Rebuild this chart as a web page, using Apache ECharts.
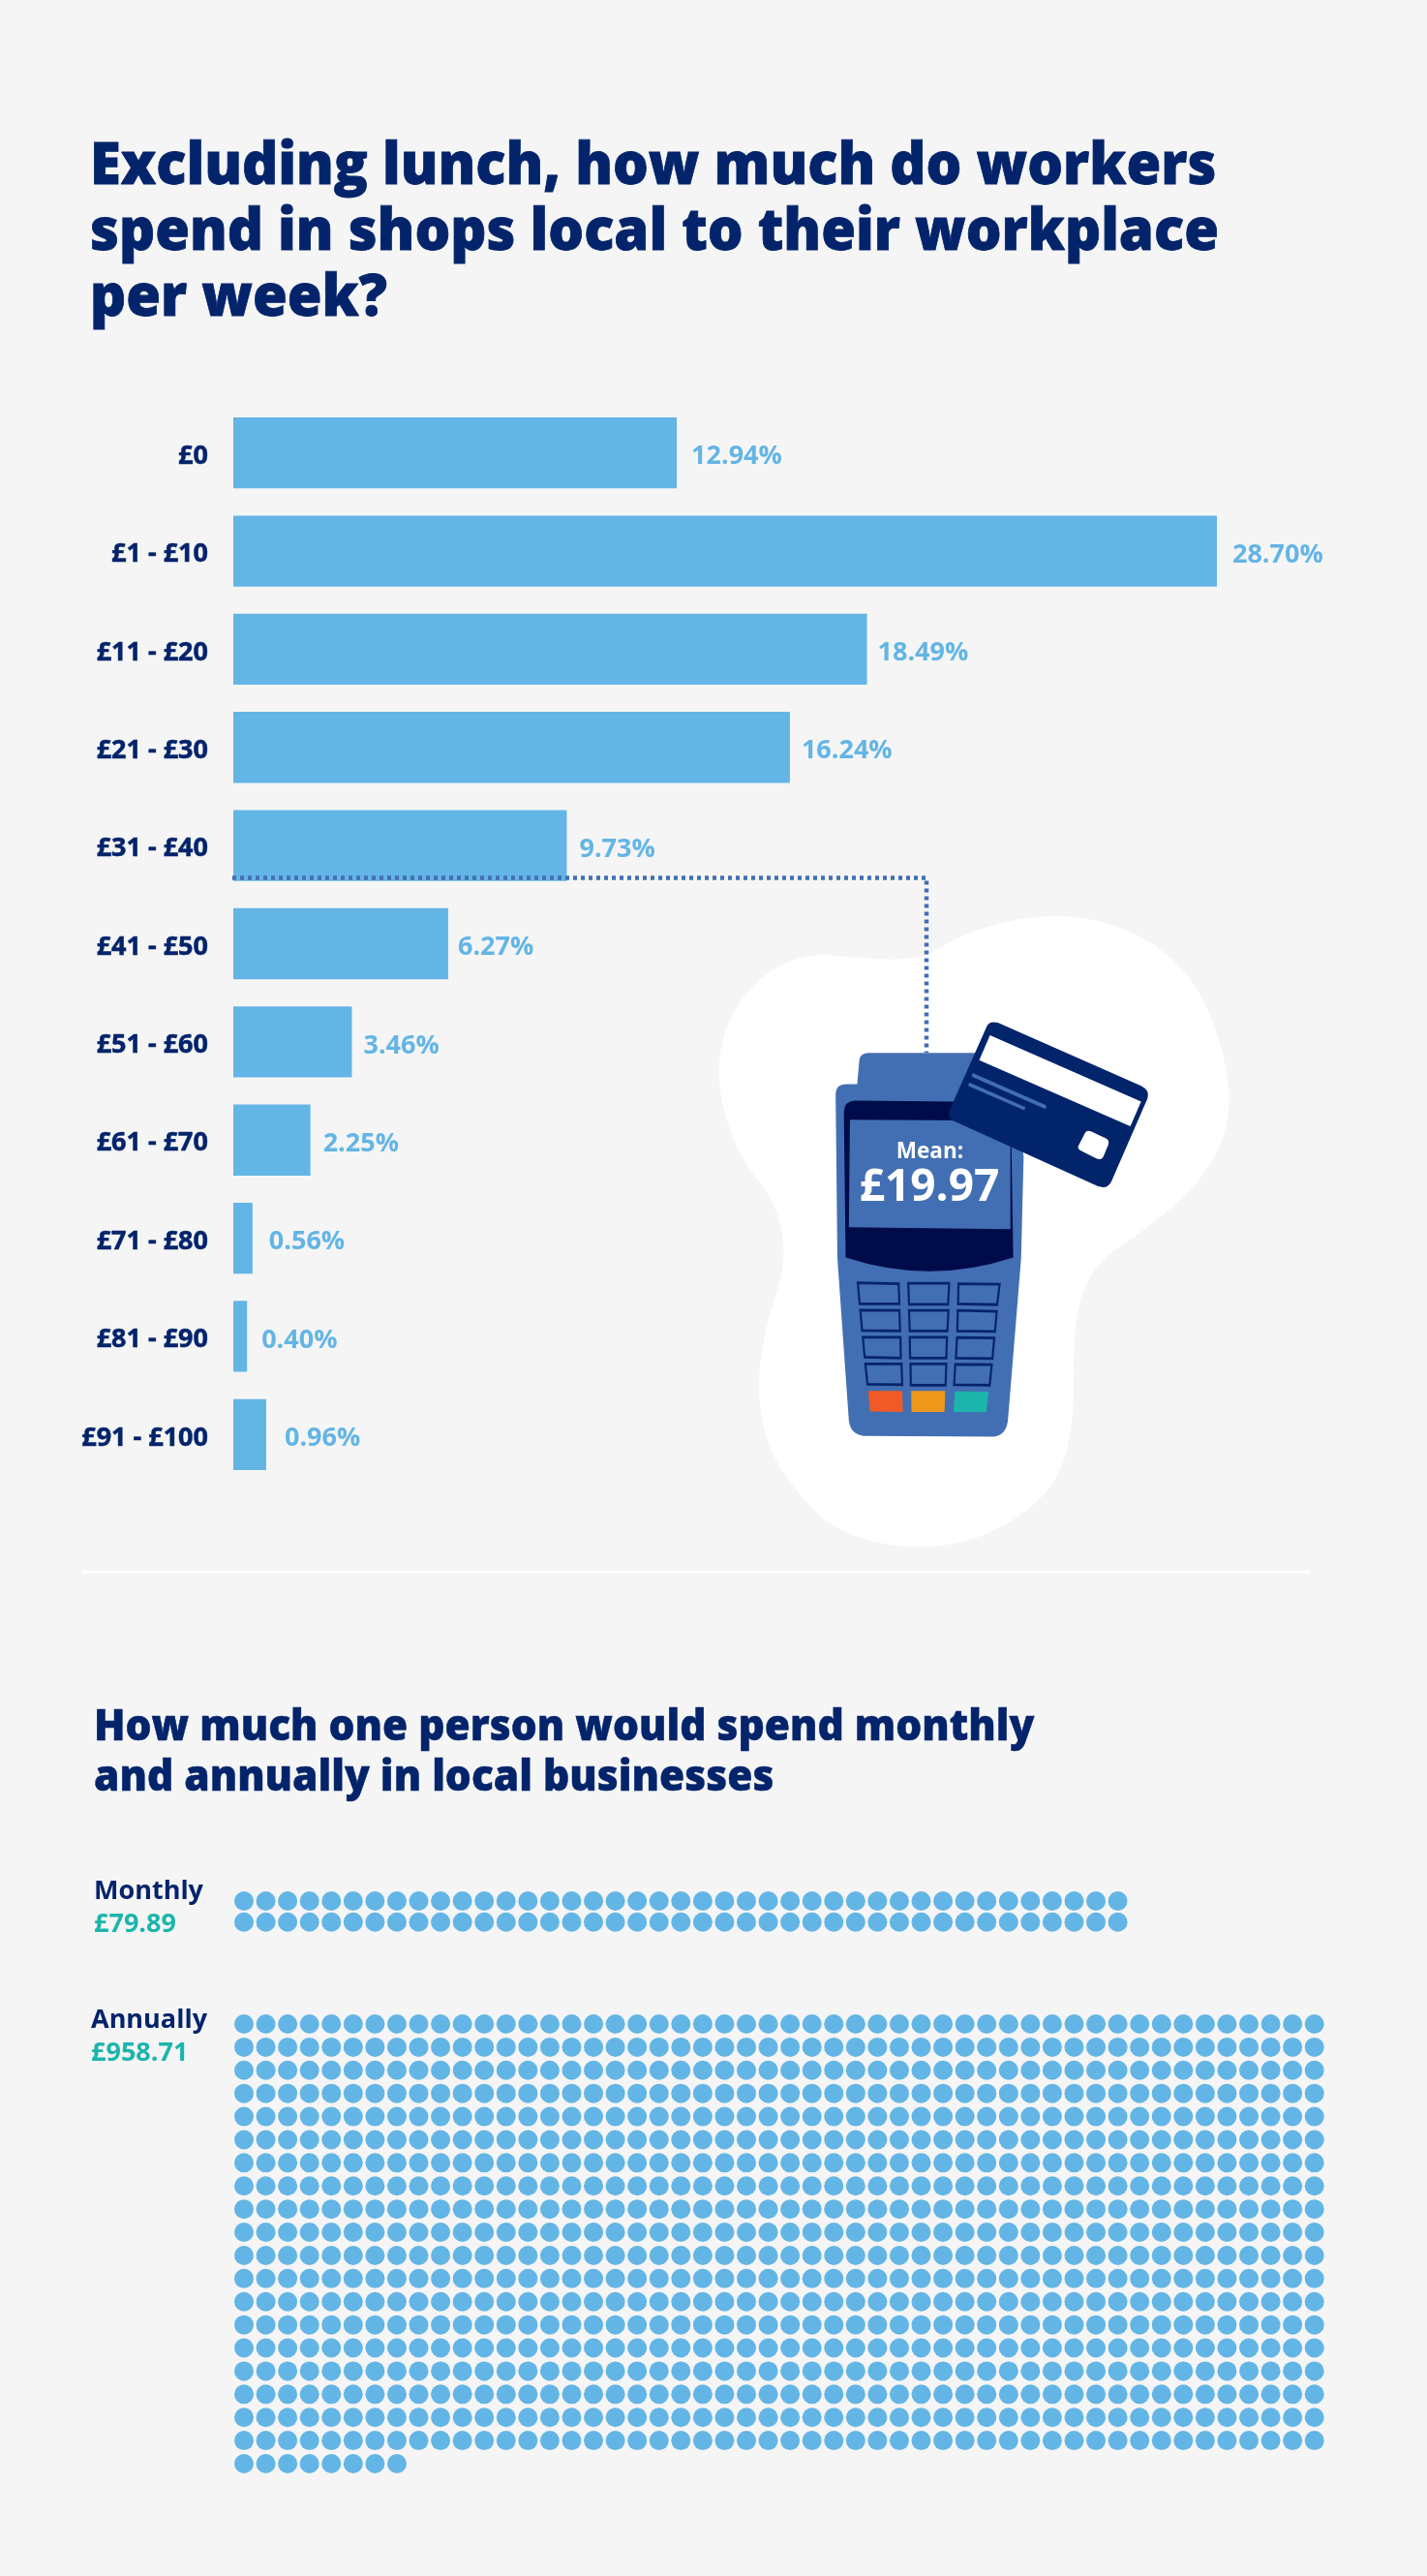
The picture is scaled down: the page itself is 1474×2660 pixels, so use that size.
<!DOCTYPE html>
<html>
	<head>
		<meta charset="utf-8">
		<title>Local spend</title>
		<script src="https://cdn.jsdelivr.net/npm/echarts@6/dist/echarts.min.js"></script>
		<style>
			* {
				margin: 0;
				padding: 0;
			}
			#main {
				width: 1474px;
				height: 2660px;
			}
		</style>
	</head>
	<body>
		<div id="main"></div>
		<script>
			let categories = ['£0', '£1 - £10', '£11 - £20', '£21 - £30', '£31 - £40', '£41 - £50', '£51 - £60', '£61 - £70', '£71 - £80', '£81 - £90', '£91 - £100'];
			let shares = [12.94, 28.70, 18.49, 16.24, 9.73, 6.27, 3.46, 2.25, 0.56, 0.40, 0.96];
			// one dot per pound, counted off the picture
			let monthlyDots = 82;
			let monthlyCols = 41;
			let annualDots = 958;
			let annualCols = 50;

			let navy = '#03246b';
			let blue = '#63b5e5';
			let teal = '#1cb5ac';
			let font = 'Open Sans';
			// gap between bar end and its label, the original is hand placed
			let labelGaps = [15, 16, 11, 12, 13, 10, 12, 13, 17, 15, 19];

			function dots(count, cols) {
				let list = [];
				for (let i = 0; i < count; i++) {
					list.push([i % cols, Math.floor(i / cols)]);
				}
				return list;
			}

			// the card reader, traced in a 1568 x 1568 drawing space
			let keys = [
				[[449,925],[563,927],[565,972],[454,972]], [[590,926],[704,926],[701,973],[592,973]], [[730,927],[845,928],[838,974],[729,972]],
				[[456,986],[565,987],[567,1033],[461,1032]], [[592,987],[702,987],[699,1033],[594,1033]], [[728,987],[837,989],[832,1034],[727,1033]],
				[[463,1047],[568,1047],[569,1094],[468,1092]], [[594,1047],[698,1047],[696,1094],[595,1094]], [[726,1048],[830,1049],[825,1095],[723,1094]],
				[[470,1107],[571,1107],[573,1154],[476,1153]], [[596,1107],[696,1107],[694,1155],[597,1155]], [[721,1108],[823,1109],[817,1155],[718,1154]]
			];

			function shape(d, fill) {
				return {type: 'path', shape: {pathData: d}, style: {fill: fill}};
			}

			function poly(points, style) {
				return {type: 'polygon', shape: {points: points}, style: style};
			}

			function drawReader() {
				let children = [
					shape('M62 450C62 300 200 190 350 188C450 190 570 210 650 185C760 125 900 100 1010 100C1200 105 1350 180 1420 300C1470 390 1490 470 1485 530C1475 680 1300 780 1160 855C1060 915 1052 1020 1052 1130C1052 1260 1040 1360 930 1430C830 1495 720 1518 620 1518C500 1518 390 1490 320 1430C220 1345 175 1270 173 1160C173 1070 205 990 230 925C255 860 245 770 175 700C110 635 62 540 62 450Z', '#ffffff'),
					shape('M447 480L453 425Q455 408 480 408L790 408L790 480Z', '#426fb3'),
					shape('M387 500Q388 478 415 478L880 478L912 640L905 870L868 1235Q862 1270 825 1271L465 1269Q428 1265 424 1235L392 870Z', '#426fb3'),
					shape('M410 540Q412 516 440 515L720 517L878 620L883 868Q650 930 415 868Z', '#000b4a'),
					poly([[427,558],[875,560],[875,804],[424,800]], {fill: '#426fb3'})
				];
				keys.forEach((k) => {
					children.push(poly(k, {fill: 'none', stroke: '#06246c', lineWidth: 6}));
				});
				children.push(
					poly([[478,1168],[573,1168],[575,1215],[483,1214]], {fill: '#f15a26'}),
					poly([[598,1168],[693,1168],[691,1215],[599,1215]], {fill: '#f0981c'}),
					poly([[720,1169],[814,1170],[808,1216],[716,1215]], {fill: teal}),
					shape('M808 350Q815 335 840 340L1240 482Q1265 492 1258 510L1158 695Q1148 715 1120 708L715 560Q698 550 706 535Z', '#02246b'),
					poly([[818,368],[1240,517],[1210,573],[788,424]], {fill: '#ffffff'}),
					poly([[770,453],[976,526],[973,534],[767,461]], {fill: '#426fb3'}),
					poly([[760,474],[917,530],[914,537],[757,482]], {fill: '#426fb3'}),
					shape('M1082 590Q1087 580 1100 584L1142 600Q1153 605 1148 615L1135 640Q1130 650 1115 645L1072 628Q1060 622 1066 615Z', '#ffffff')
				);
				return {type: 'group', x: 720, y: 900, scaleX: 580 / 1568, scaleY: 720 / 1568, children: children};
			}

			function label(text, x, y, size, color, weight, align) {
				return {
					type: 'text',
					x: x,
					y: y,
					z: 100,
					style: {
						text: text,
						fill: color,
						fontFamily: font,
						fontSize: size,
						fontWeight: weight,
						align: align || 'left',
						verticalAlign: 'middle'
					}
				};
			}

			// headings are set tighter and heavier than the font, so squeeze and thicken them a little
			function heading(text, x, y, size, lineHeight, thicken) {
				return {
					type: 'text',
					x: x,
					y: y,
					z: 100,
					scaleX: 0.965,
					style: {
						text: text,
						fill: navy,
						stroke: navy,
						lineWidth: thicken,
						fontFamily: font,
						fontSize: size,
						fontWeight: 800,
						lineHeight: lineHeight,
						verticalAlign: 'top'
					}
				};
			}

			let myChart = echarts.init(document.getElementById('main'));
			let option = {
				backgroundColor: '#f5f5f5',
				animation: false,
				grid: [
					{left: 241, top: 417, width: 1062, height: 1115},
					{left: 252, top: 1963, width: 902.6, height: 21.7},
					{left: 252, top: 2090, width: 1105.7, height: 454}
				],
				xAxis: [
					{gridIndex: 0, type: 'value', min: 0, max: 30, show: false},
					{gridIndex: 1, type: 'value', min: 0, max: monthlyCols - 1, show: false},
					{gridIndex: 2, type: 'value', min: 0, max: annualCols - 1, show: false}
				],
				yAxis: [{
					gridIndex: 0,
					type: 'category',
					inverse: true,
					data: categories,
					axisLine: {show: false},
					axisTick: {show: false},
					axisLabel: {color: navy, fontFamily: font, fontSize: 27, fontWeight: 700, margin: 26, verticalAlign: 'top', lineHeight: 7, textBorderColor: navy, textBorderWidth: 0.5}
				},
					{gridIndex: 1, type: 'value', inverse: true, min: 0, max: 1, show: false},
					{gridIndex: 2, type: 'value', inverse: true, min: 0, max: Math.ceil(annualDots / annualCols) - 1, show: false}
				],
				series: [{
					type: 'bar',
					xAxisIndex: 0,
					yAxisIndex: 0,
					data: shares.map((v, i) => ({
						value: v,
						label: {distance: labelGaps[i]}
					})),
					barWidth: 73.3,
					itemStyle: {color: blue},
					label: {
						show: true,
						position: 'right',
						offset: [0, 4],
						color: blue,
						fontFamily: font,
						fontSize: 27,
						fontWeight: 700,
						formatter: (p) => p.value.toFixed(2) + '%'
					}
				}, {
					type: 'scatter',
					xAxisIndex: 1,
					yAxisIndex: 1,
					data: dots(monthlyDots, monthlyCols),
					symbolSize: 20,
					clip: false,
					itemStyle: {color: blue, opacity: 1}
				}, {
					type: 'scatter',
					xAxisIndex: 2,
					yAxisIndex: 2,
					data: dots(annualDots, annualCols),
					symbolSize: 20,
					clip: false,
					itemStyle: {color: blue, opacity: 1}
				}, {
					type: 'custom',
					coordinateSystem: 'none',
					silent: true,
					data: [0],
					renderItem: drawReader
				}],
				graphic: [
					heading('Excluding lunch, how much do workers\nspend in shops local to their workplace\nper week?', 93, 139, 60, 68, 0.8),
					heading('How much one person would spend monthly\nand annually in local businesses', 97, 1758, 44, 52, 0.5),
					{
						type: 'line',
						z: 90,
						shape: {x1: 85, y1: 1623, x2: 1353, y2: 1623},
						style: {stroke: '#ffffff', lineWidth: 3}
					},
					{
						type: 'polyline',
						z: 90,
						shape: {points: [[240, 906.5], [957, 906.5], [957, 1087]]},
						style: {stroke: '#426fb3', lineWidth: 4.5, lineDash: [4, 4], fill: 'none'}
					},
					label('Mean:', 960.5, 1190, 22.5, '#ffffff', 700, 'center'),
					label('£19.97', 960, 1227, 46, '#ffffff', 700, 'center'),
					label('Monthly', 97, 1953, 27, navy, 700),
					label('£79.89', 97, 1987, 27, teal, 700),
					label('Annually', 94, 2086, 27, navy, 700),
					label('£958.71', 94, 2120, 27, teal, 700)
				]
			};
			myChart.setOption(option);
		</script>
	</body>
</html>
